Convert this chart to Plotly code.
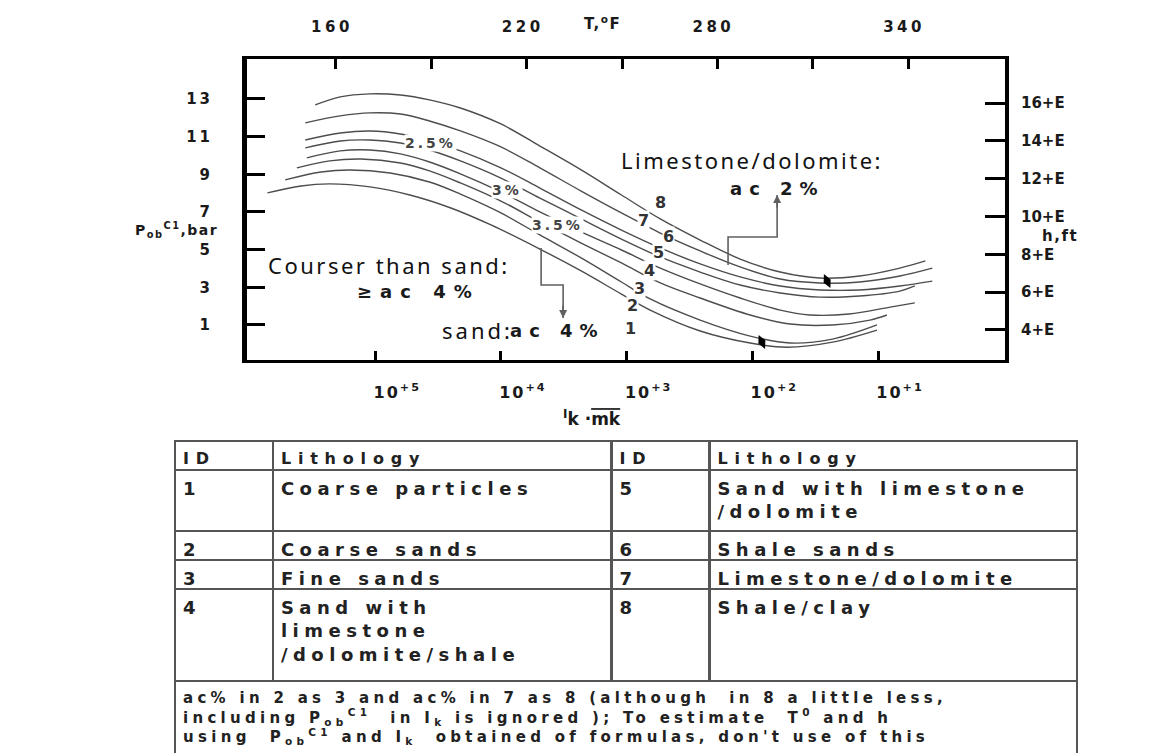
import numpy as np
import plotly.graph_objects as go

W, H = 1164, 753
OFF = 8  # page body margin of the browser

# ---------------- data ----------------
# Curves 1..8 : I_k (log axis) vs P_ob^C1 (bar)
curve_names = ["8", "7", "6", "5", "4", "3", "2", "1"]
c8_ik = [3.0e5, 1.9e5, 1.1e5, 6.3e4, 3.7e4, 2.1e4, 1.0e4, 4.9e3, 2.3e3, 1.1e3, 540, 260, 125, 60, 29, 14, 6.7, 4.2]
c8_p = [12.68, 13.11, 13.27, 13.21, 12.95, 12.52, 11.67, 10.50, 9.23, 7.90, 6.63, 5.51, 4.50, 3.81, 3.49, 3.60, 4.02, 4.40]
c7_ik = [3.6e5, 1.9e5, 1.1e5, 6.3e4, 3.7e4, 2.1e4, 1.0e4, 4.9e3, 2.3e3, 1.1e3, 540, 260, 125, 60, 29, 14, 6.7, 3.7]
c7_p = [11.73, 12.10, 12.26, 12.20, 11.83, 11.30, 10.45, 9.34, 8.11, 6.95, 5.88, 4.93, 4.08, 3.44, 3.23, 3.28, 3.60, 4.02]
c6_ik = [3.6e5, 1.9e5, 1.1e5, 6.3e4, 3.7e4, 2.1e4, 1.0e4, 4.9e3, 2.3e3, 1.1e3, 540, 260, 125, 60, 29, 14, 6.7, 3.7]
c6_p = [10.82, 11.19, 11.30, 11.14, 10.77, 10.24, 9.34, 8.27, 7.11, 6.04, 5.09, 4.24, 3.55, 3.07, 2.86, 2.86, 3.07, 3.33]
c5_ik = [3.6e5, 1.9e5, 1.1e5, 6.3e4, 3.7e4, 2.1e4, 1.0e4, 4.9e3, 2.3e3, 1.1e3, 540, 260, 125, 60, 29, 14, 6.7, 5.1]
c5_p = [10.40, 10.77, 10.82, 10.66, 10.29, 9.71, 8.80, 7.74, 6.63, 5.56, 4.61, 3.81, 3.12, 2.70, 2.48, 2.54, 2.80, 3.07]
c4_ik = [3.5e5, 1.9e5, 1.1e5, 6.3e4, 3.7e4, 2.1e4, 1.0e4, 4.9e3, 2.3e3, 1.1e3, 540, 260, 125, 60, 35, 17, 8.0, 5.1]
c4_p = [9.87, 10.24, 10.29, 10.08, 9.65, 9.02, 8.06, 7.00, 5.94, 4.98, 4.02, 3.18, 2.43, 1.79, 1.53, 1.58, 1.95, 2.17]
c3_ik = [4.2e5, 2.3e5, 1.3e5, 6.3e4, 3.7e4, 2.1e4, 1.0e4, 4.9e3, 2.3e3, 1.1e3, 540, 260, 104, 50, 23, 11.6, 8.5]
c3_p = [9.34, 9.71, 9.81, 9.60, 9.18, 8.54, 7.58, 6.47, 5.35, 4.29, 3.23, 2.43, 1.53, 1.05, 1.00, 1.26, 1.53]
c2_ik = [5.2e5, 2.7e5, 1.6e5, 7.6e4, 3.7e4, 2.1e4, 1.0e4, 4.9e3, 2.3e3, 1.1e3, 650, 260, 104, 50, 23, 10.2]
c2_p = [8.70, 9.12, 9.23, 9.07, 8.59, 7.95, 6.95, 5.78, 4.56, 3.28, 2.38, 1.26, 0.41, 0.04, 0.25, 1.00]
c1_ik = [7.2e5, 3.9e5, 2.3e5, 1.1e5, 5.3e4, 2.5e4, 1.2e4, 4.9e3, 2.3e3, 1.1e3, 650, 260, 104, 53, 23, 10.2]
c1_p = [8.01, 8.38, 8.49, 8.33, 7.90, 7.21, 6.31, 5.03, 3.87, 2.64, 1.79, 0.68, 0.04, -0.18, 0.09, 0.73]

curves_ik = [c8_ik, c7_ik, c6_ik, c5_ik, c4_ik, c3_ik, c2_ik, c1_ik]
curves_p = [c8_p, c7_p, c6_p, c5_p, c4_p, c3_p, c2_p, c1_p]

# curve number labels
label_text = ["8", "7", "6", "5", "4", "3", "2", "1"]
label_ik = [542, 740, 468, 562, 662, 796, 904, 938]
label_p = [7.48, 6.57, 5.67, 4.87, 3.87, 2.96, 2.01, 0.79]

# percentage labels on curves
pct_text = ["2.5%", "3%", "3.5%"]
pct_ik = [3.66e4, 8.9e3, 3.57e3]
pct_p = [10.66, 8.17, 6.31]

# black marks on curves
mark_ik = [25.4, 84]
mark_p = [3.33, 0.10]

# callout arrows
arrow_lime_ik = [156, 156, 63.5, 63.5]
arrow_lime_p = [4.18, 5.67, 5.67, 7.90]
arrow_sand_ik = [4790, 4790, 3200, 3200]
arrow_sand_p = [5.09, 3.12, 3.12, 1.37]

# axes
ik_ticks = [1e5, 1e4, 1e3, 1e2, 1e1]
ik_ticktext = ["10<sup>+5</sup>", "10<sup>+4</sup>", "10<sup>+3</sup>", "10<sup>+2</sup>", "10<sup>+1</sup>"]
p_ticks = [1, 3, 5, 7, 9, 11, 13]
t_ticks = [160, 190, 220, 250, 280, 310, 340]
t_ticktext = ["160", "", "220", "", "280", "", "340"]
h_ticks = [4, 6, 8, 10, 12, 14, 16]
h_ticktext = ["4+E", "6+E", "8+E", "10+E", "12+E", "14+E", "16+E"]

# table
tbl_header = ["ID", "Lithology", "ID", "Lithology"]
row1 = ["1", "Coarse particles", "5", "Sand with limestone<br>/dolomite"]
row2 = ["2", "Coarse sands", "6", "Shale sands"]
row3 = ["3", "Fine sands", "7", "Limestone/dolomite"]
row4 = ["4", "Sand with<br>limestone<br>/dolomite/shale", "8", "Shale/clay"]
note = ("ac% in 2 as 3 and ac% in 7 as 8 (although  in 8 a little less,<br>"
        "including P<sub>ob</sub><sup>C1</sup>  in I<sub>k</sub> is ignored ); To estimate  T<sup>0</sup> and h<br>"
        "using  P<sub>ob</sub><sup>C1</sup> and I<sub>k</sub>  obtained of formulas, don't use of this<br>"
        "curves.")

# ---------------- helpers ----------------
def ls(text, sp):
    if not text:
        return text
    return "<br>".join(f"<span style='letter-spacing:{sp}px'>{t}</span>" for t in text.split("<br>"))

def cell(text, sp):
    s = ls(text, sp)
    if "<br>" not in s:
        s += "<br>"   # keeps plotly's table word-wrapping from splitting the markup
    return s

def py(p):
    return 1 - (p - OFF) / H

def pxx(p):
    return (p - OFF) / W

FAM = "DejaVu Sans"
BOLD = dict(family=FAM, color="#1a1a1a", weight="bold")

fig = go.Figure()

for name, xs, ys in zip(curve_names, curves_ik, curves_p):
    fig.add_trace(go.Scatter(x=xs, y=ys, mode="lines", name=name,
                             line=dict(color="#4d4d4d", width=1.4, shape="spline", smoothing=1.0),
                             hoverinfo="skip", showlegend=False))

for xs, ys in [(arrow_lime_ik, arrow_lime_p), (arrow_sand_ik, arrow_sand_p)]:
    fig.add_trace(go.Scatter(x=xs, y=ys, mode="lines", line=dict(color="#606060", width=1.6),
                             hoverinfo="skip", showlegend=False))

fig.add_trace(go.Scatter(x=mark_ik, y=mark_p, mode="markers",
                         marker=dict(symbol="diamond-tall", size=11, color="black", angle=-25),
                         hoverinfo="skip", showlegend=False))

# dummy trace so the top/right axes are drawn
fig.add_trace(go.Scatter(x=[None], y=[None], xaxis="x2", yaxis="y2", showlegend=False, hoverinfo="skip"))

ann = []
for t, xv, yv in zip(label_text, label_ik, label_p):
    ann.append(dict(x=np.log10(xv), y=yv, xref="x", yref="y", text=t, showarrow=False,
                    font=dict(size=16, family=FAM, color="#333", weight="bold"), bgcolor="white", borderpad=0))
for t, xv, yv in zip(pct_text, pct_ik, pct_p):
    ann.append(dict(x=np.log10(xv), y=yv, xref="x", yref="y", text=ls(t, 3), showarrow=False,
                    font=dict(family=FAM, size=14, color="#444", weight="bold"), bgcolor="white", borderpad=0))

REG = dict(family="Noto Sans", color="#111")
ann += [
    dict(x=np.log10(100), y=9.76, xref="x", yref="y", text=ls("Limestone/dolomite:", 2.5), showarrow=False,
         font=dict(size=22, **REG)),
    dict(x=np.log10(63.5), y=8.27, xref="x", yref="y", text=ls("ac 2%", 7), showarrow=False,
         font=dict(size=18, **BOLD)),
    dict(x=np.log10(7.7e4), y=4.18, xref="x", yref="y", text=ls("Courser than sand:", 2.5), showarrow=False,
         font=dict(size=22, **REG), bgcolor="white", borderpad=0),
    dict(x=np.log10(4.5e4), y=2.80, xref="x", yref="y", text=ls("≥ac 4%", 8), showarrow=False,
         font=dict(size=18, **BOLD)),
    dict(x=np.log10(1.55e4), y=0.73, xref="x", yref="y", text=ls("sand:", 3), showarrow=False,
         font=dict(size=22, **REG)),
    dict(x=np.log10(3.57e3), y=0.73, xref="x", yref="y", text=ls("ac 4%", 7), showarrow=False,
         font=dict(size=18, **BOLD)),
    # arrow heads
    dict(x=np.log10(arrow_lime_ik[-1]), y=arrow_lime_p[-1], xref="x", yref="y", text="", showarrow=True,
         ax=0, ay=14, arrowhead=2, arrowsize=1, arrowwidth=1.6, arrowcolor="#606060"),
    dict(x=np.log10(arrow_sand_ik[-1]), y=arrow_sand_p[-1], xref="x", yref="y", text="", showarrow=True,
         ax=0, ay=-14, arrowhead=2, arrowsize=1, arrowwidth=1.6, arrowcolor="#606060"),
    # axis titles
    dict(x=pxx(602), y=py(23), xref="paper", yref="paper", xanchor="center", yanchor="middle",
         text=ls("T,<sup>o</sup>F", 1.5), showarrow=False, font=dict(size=15, **BOLD)),
    dict(x=pxx(220), y=py(230), xref="paper", yref="paper", xanchor="right", yanchor="middle",
         text=ls("P<sub>ob</sub><sup>C1</sup>,bar", 1.5), showarrow=False, font=dict(size=14, **BOLD)),
    dict(x=pxx(1040), y=py(236), xref="paper", yref="paper", xanchor="left", yanchor="middle",
         text=ls("h,ft", 1.5), showarrow=False, font=dict(size=15, **BOLD)),
    dict(x=pxx(592), y=py(418), xref="paper", yref="paper", xanchor="center", yanchor="middle",
         text="<sup>I</sup>k ·<span style='text-decoration:overline'>mk</span>", showarrow=False,
         font=dict(size=17, **BOLD)),
]

# ---------------- tables ----------------
TF = dict(family=FAM, size=18, color="#222", weight="bold")
TF_HDR = dict(family=FAM, size=16, color="#222", weight="bold")
LINE = dict(color="#555", width=2.5)
colw = [98, 339, 98, 368]
tx0, tx1 = pxx(175), pxx(1078)
SP = 5.5

def add_row(row, height, ytop, cols=colw, sp=SP, font=TF):
    hdr = dict(values=[cell(v, sp) for v in row], height=height, align="left", font=font,
               fill=dict(color="white"), line=LINE)
    fig.add_trace(go.Table(domain=dict(x=[tx0, tx1], y=[0, py(ytop)]),
                           columnwidth=cols, header=hdr,
                           cells=dict(values=[], fill=dict(color="white"), line=LINE)))

add_row(tbl_header, 28, 441, sp=6.8, font=TF_HDR)
add_row(row1, 61, 470)
add_row(row2, 29, 531)
add_row(row3, 29, 560)
add_row(row4, 92, 589)
add_row([note], 72, 681, cols=[1], sp=4.3, font=dict(family=FAM, size=15, color="#222", weight="bold"))

TICKF = dict(family=FAM, size=15, color="#1a1a1a", weight="bold")

fig.update_layout(
    width=W, height=H, margin=dict(l=0, r=0, t=0, b=0, pad=0, autoexpand=False),
    paper_bgcolor="white", plot_bgcolor="white", showlegend=False,
    annotations=ann,
    xaxis=dict(type="log", domain=[pxx(247), pxx(1005)], range=[6.02, -0.01], anchor="y", automargin=False,
               tickvals=ik_ticks, ticktext=[ls(t, 2) for t in ik_ticktext], ticks="inside", ticklen=9,
               tickwidth=3, tickcolor="black", showline=True, linewidth=3, linecolor="black",
               showgrid=False, zeroline=False, tickfont=dict(family=FAM, size=16, color="#1a1a1a", weight="bold"),
               ticklabelstandoff=16, ticklabelshift=-22),
    xaxis2=dict(overlaying="x", side="top", anchor="y", domain=[pxx(247), pxx(1005)], range=[132, 370.5],
                automargin=False,
                tickvals=t_ticks, ticktext=[ls(t, 3.5) for t in t_ticktext], ticks="inside", ticklen=10,
                tickwidth=3, tickcolor="black", showline=True, linewidth=3, linecolor="black",
                showgrid=False, zeroline=False, tickfont=TICKF, ticklabelstandoff=18, ticklabelshift=-4),
    yaxis=dict(domain=[py(360), py(59)], range=[-0.86, 15.12], anchor="x", automargin=False,
               tickvals=p_ticks, ticktext=[ls(str(v), 3) for v in p_ticks], ticks="inside", ticklen=18,
               tickwidth=3, tickcolor="black", showline=True, linewidth=5, linecolor="black",
               showgrid=False, zeroline=False, tickfont=TICKF, ticklabelstandoff=26),
    yaxis2=dict(overlaying="y", side="right", anchor="x", range=[2.41, 18.33], automargin=False,
                tickvals=h_ticks, ticktext=h_ticktext, ticks="inside", ticklen=20,
                tickwidth=3, tickcolor="black", showline=True, linewidth=4, linecolor="black",
                showgrid=False, zeroline=False, tickfont=TICKF, ticklabelstandoff=9),
)

fig.write_html("out.html")
